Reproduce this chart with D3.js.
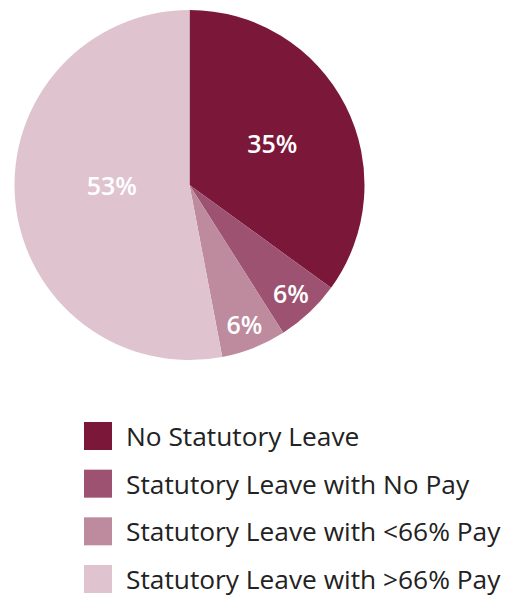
<!DOCTYPE html>
<html>
<head>
<meta charset="utf-8">
<script src="https://cdn.jsdelivr.net/npm/d3@7/dist/d3.min.js"></script>
<style>
  html, body { margin: 0; padding: 0; background: #fff; }
  svg { display: block; }
</style>
</head>
<body>
<svg id="chart" width="509" height="596"></svg>
<script>
const categories = ["No Statutory Leave", "Statutory Leave with No Pay", "Statutory Leave with <66% Pay", "Statutory Leave with >66% Pay"];
const values = [35, 6, 6, 53];
const colors = ["#7b1839", "#9c5270", "#bd8a9e", "#dfc4cf"];
const valueLabels = ["35%", "6%", "6%", "53%"];

const data = categories.map((c, i) => ({ category: c, value: values[i], color: colors[i], label: valueLabels[i] }));

const svg = d3.select("#chart");
const cx = 189.5, cy = 185, R = 175;
const labelR = [93, 148, 149, 78];

const pie = d3.pie().value(d => d.value).sort(null);
const arcs = pie(data);
const arc = d3.arc().innerRadius(0).outerRadius(R);

const g = svg.append("g").attr("transform", `translate(${cx},${cy})`);
g.selectAll("path.slice").data(arcs).enter().append("path")
  .attr("class", "slice")
  .attr("d", arc)
  .attr("fill", d => d.data.color);

g.selectAll("text.val").data(arcs).enter().append("text")
  .attr("class", "val")
  .attr("transform", (d, i) => {
    const a = d3.arc().innerRadius(labelR[i]).outerRadius(labelR[i]);
    const [x, y] = a.centroid(d);
    return `translate(${x},${y - (i === 3 ? 7 : 0)})`;
  })
  .attr("text-anchor", "middle")
  .attr("dominant-baseline", "central")
  .attr("fill", "#fff")
  .attr("font-family", "'Open Sans', sans-serif")
  .attr("font-weight", 600)
  .attr("font-size", 25)
  .text(d => d.data.label);

// Legend
const legend = svg.append("g");
const y = d3.scalePoint().domain(categories).range([422, 565]);
const rows = legend.selectAll("g.row").data(data).enter().append("g")
  .attr("class", "row")
  .attr("transform", d => `translate(84,${y(d.category)})`);
rows.append("rect").attr("width", 28).attr("height", 28).attr("fill", d => d.color);
rows.append("text")
  .attr("x", 42)
  .attr("y", 24)
  .attr("fill", "#222")
  .attr("font-family", "'Open Sans', sans-serif")
  .attr("font-size", 26.3)
  .text(d => d.category);
</script>
</body>
</html>
